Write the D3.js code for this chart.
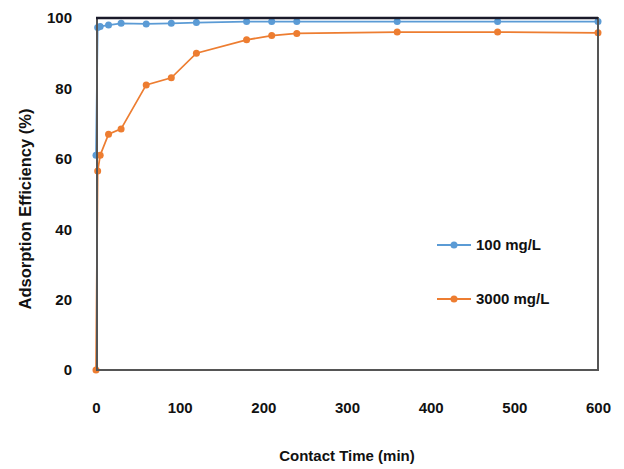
<!DOCTYPE html>
<html>
<head>
<meta charset="utf-8">
<script src="https://cdn.jsdelivr.net/npm/d3@7"></script>
<style>
    body { margin: 0; background: #fff; }
    text { font-family: "Liberation Sans", Arial, sans-serif; font-weight: bold; fill: #111; }
</style>
</head>
<body>
<div id="chart"></div>
<script>
// contact time (min)
var times = [0, 2, 5, 15, 30, 60, 90, 120, 180, 210, 240, 360, 480, 600];
// adsorption efficiency (%)
var low = [61, 97.3, 97.6, 98, 98.5, 98.3, 98.5, 98.7, 99, 99, 99, 99, 99, 99];
var high = [0, 56.5, 61, 67, 68.5, 81, 83, 90, 93.8, 95, 95.6, 96, 96, 95.8];
var seriesNames = ['100 mg/L', '3000 mg/L'];
var colors = ['#5b9bd5', '#ed7d31'];
var xTicks = [0, 100, 200, 300, 400, 500, 600];
var yTicks = [0, 20, 40, 60, 80, 100];

var Chart = {
    width: 624,
    height: 469,
    svg: '',
    x: '',
    y: '',
    draw: function () {
        this.svg = d3.select('#chart').append('svg')
            .attr('width', this.width)
            .attr('height', this.height);

        this.x = d3.scaleLinear().domain([0, 600]).range([96, 598]);
        this.y = d3.scaleLinear().domain([0, 100]).range([370, 18]);

        this.drawAxes();
        this.drawSeries(low, colors[0]);
        this.drawSeries(high, colors[1]);
        this.drawFrame();
        this.drawLegend();
    },
    drawAxes: function () {
        var x = this.x, y = this.y;

        this.svg.append('g')
            .attr('transform', 'translate(0,' + 372 + ')')
            .call(d3.axisBottom(x).tickValues(xTicks).tickSize(0).tickPadding(30))
            .call(function (g) { g.select('.domain').remove(); })
            .selectAll('text')
            .style('font-size', '15px');

        this.svg.append('g')
            .attr('transform', 'translate(' + 86 + ',0)')
            .call(d3.axisLeft(y).tickValues(yTicks).tickSize(0).tickPadding(14))
            .call(function (g) { g.select('.domain').remove(); })
            .selectAll('text')
            .style('font-size', '15px');

        this.svg.selectAll('.tick text').attr('fill', '#111');

        this.svg.append('text')
            .attr('x', 347)
            .attr('y', 461)
            .attr('text-anchor', 'middle')
            .style('font-size', '15px')
            .text('Contact Time (min)');

        this.svg.append('text')
            .attr('transform', 'translate(31,209) rotate(-90)')
            .attr('text-anchor', 'middle')
            .style('font-size', '16.5px')
            .text('Adsorption Efficiency (%)');
    },
    drawFrame: function () {
        var x = this.x, y = this.y;
        this.svg.append('rect')
            .attr('x', x(0) + 1)
            .attr('y', y(100))
            .attr('width', x(600) - x(0) - 1)
            .attr('height', y(0) - y(100))
            .attr('fill', 'none')
            .attr('stroke', '#555')
            .attr('stroke-width', 2);
        this.svg.append('line')
            .attr('x1', x(0))
            .attr('x2', x(600))
            .attr('y1', y(100))
            .attr('y2', y(100))
            .attr('stroke', '#1a1a2a')
            .attr('stroke-width', 2.5);
    },
    drawSeries: function (values, color) {
        var x = this.x, y = this.y;
        var line = d3.line()
            .x(function (d, i) { return x(times[i]); })
            .y(function (d) { return y(d); });

        this.svg.append('path')
            .datum(values)
            .attr('d', line)
            .attr('fill', 'none')
            .attr('stroke', color)
            .attr('stroke-width', 1.75);

        this.svg.append('g').selectAll('circle')
            .data(values)
            .enter()
            .append('circle')
            .attr('cx', function (d, i) { return x(times[i]); })
            .attr('cy', function (d) { return y(d); })
            .attr('r', 3.5)
            .attr('fill', color);
    },
    drawLegend: function () {
        var g = this.svg.append('g');
        var rows = [245, 299];
        seriesNames.forEach(function (name, i) {
            g.append('line')
                .attr('x1', 437).attr('x2', 471)
                .attr('y1', rows[i]).attr('y2', rows[i])
                .attr('stroke', colors[i])
                .attr('stroke-width', 2);
            g.append('circle')
                .attr('cx', 454).attr('cy', rows[i])
                .attr('r', 3.5)
                .attr('fill', colors[i]);
            g.append('text')
                .attr('x', 476)
                .attr('y', rows[i] + 5)
                .style('font-size', '15px')
                .text(name);
        });
    }
};

Chart.draw();
</script>
</body>
</html>
